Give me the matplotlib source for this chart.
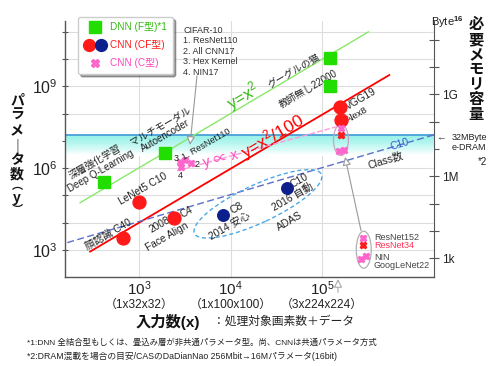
import numpy as np
import matplotlib
matplotlib.use('Agg')
import matplotlib.pyplot as plt
from matplotlib.patches import Ellipse
from matplotlib.lines import Line2D
from matplotlib.legend_handler import HandlerTuple
import matplotlib.transforms as mtrans

plt.rcParams['font.family'] = ['Liberation Sans', 'Noto Sans CJK JP', 'DejaVu Sans']
plt.rcParams['mathtext.fontset'] = 'custom'
plt.rcParams['mathtext.rm'] = 'Liberation Sans'
plt.rcParams['mathtext.it'] = 'Liberation Sans:italic'
plt.rcParams['mathtext.bf'] = 'Liberation Sans:bold'

# ---------------- data (log10 values) ----------------
dnn_names = ['Deep Q-Learning', 'Autoencoder', 'グーグルの猫', '教師無し22000']
dnn_logx = [2.61, 3.28, 5.09, 5.09]
dnn_logy = [5.50, 6.56, 10.04, 9.01]

cf_red_names = ['顔認識 C40', 'LeNet5 C10', '2008 C4 Face Align', 'VGG19', 'Alex8']
cf_red_logx = [2.82, 3.00, 3.38, 5.20, 5.21]
cf_red_logy = [3.45, 4.77, 4.18, 8.24, 7.77]

cf_navy_names = ['2014 安心 C8', '2016 自動 C10']
cf_navy_logx = [3.92, 4.62]
cf_navy_logy = [4.29, 5.27]

c_cifar_names = ['ResNet110', 'All CNN17', 'Hex Kernel', 'NIN17']
c_cifar_logx = [3.50, 3.57, 3.45, 3.46]
c_cifar_logy = [6.30, 6.19, 6.23, 6.05]

c_imnet_names = ['ResNet152', 'ResNet34', 'NIN', 'GoogLeNet22']
c_imnet_logx = [5.21, 5.21, 5.19, 5.24]
c_imnet_logy = [7.47, 7.22, 6.63, 6.67]
c_imnet_is_red = [False, True, False, False]

# enlarged copy (inset legend at bottom right)
inset_logx = [5.45, 5.45, 5.43, 5.49]
inset_logy = [3.45, 3.19, 2.68, 2.79]

# trend lines (end points)
line_x2_logx = [2.35, 5.51]
line_x2_logy = [4.73, 10.99]
line_x2_100_logx = [2.46, 5.74]
line_x2_100_logy = [2.94, 9.41]
line_prop_logx = [3.415, 5.155]
line_prop_logy = [5.90, 7.51]
line_class_logx = [2.21, 6.23]
line_class_logy = [3.27, 7.22]

edram_params = 16e6        # 32MByte e-DRAM -> 16M params (16bit)
input_224 = 3 * 224 * 224

xtick_vals = [1e3, 1e4, 1e5]
xtick_labels = ['$10^{3}$', '$10^{4}$', '$10^{5}$']
xtick_sub = ['（1x32x32）', '（1x100x100）', '（3x224x224）']
ytick_vals = [10.0 ** k for k in range(3, 12)]
ytick_labels = ['$10^{3}$', '', '', '$10^{6}$', '', '', '$10^{9}$', '', '']
btick_vals = [10.0 ** k for k in range(3, 12)]
btick_labels = ['1k', '', '', '1M', '', '', '1G', '', '']

# ---------------- style ----------------
GREEN = '#22dd00'
GREEN_L = '#88e868'
GREEN_T = '#33bb11'
RED = '#ff1a1a'
NAVY = '#0c1f8c'
PINK = '#ff66cc'
PINK_T = '#ff44bb'
DARK = '#222222'

W, H = 500, 366
fig = plt.figure(figsize=(W / 100, H / 100), dpi=100)
ax = fig.add_axes([65 / W, 1 - 277 / H, (434 - 65) / W, (277 - 21) / H])
ax.set_xscale('log')
ax.set_yscale('log')
ax.set_xlim(10 ** 2.185, 10 ** 6.23)
ax.set_ylim(10 ** 2.01, 10 ** 11.39)


def P(v):
    return [10.0 ** t for t in v]


def fpx(px, py):
    return (px / W, 1 - py / H)


def ftext(px, py, s, **kw):
    kw.setdefault('ha', 'center')
    kw.setdefault('va', 'center')
    fig.text(px / W, 1 - py / H, s, **kw)


def lab(s, x, y, dx, dy, rot=30, size=7, color=DARK, **kw):
    ax.annotate(s, (x, y), xytext=(dx * 0.72, dy * 0.72), textcoords='offset points',
                ha='center', va='center', rotation=rot, rotation_mode='anchor',
                fontsize=size, color=color, **kw)


# axes styling
for s in ['top', 'right']:
    ax.spines[s].set_visible(False)
for s in ['left', 'bottom']:
    ax.spines[s].set_color('#555555')
    ax.spines[s].set_linewidth(1.0)
ax.set_axisbelow(True)
ax.grid(True, which='major', color='#dddddd', lw=0.8)
ax.set_xticks(xtick_vals, labels=xtick_labels)
ax.set_yticks(ytick_vals, labels=ytick_labels)
ax.minorticks_off()
ax.tick_params(axis='x', length=0, pad=2, labelsize=11, colors=DARK)
ax.tick_params(axis='y', direction='inout', length=5, pad=3, labelsize=11.5, colors='#555555', labelcolor=DARK)
for xv, sub in zip(xtick_vals, xtick_sub):
    ax.text(xv, -(298.5 - 277) / 256, sub,
            transform=mtrans.blended_transform_factory(ax.transData, ax.transAxes),
            ha='center', va='top', fontsize=8.6, color=DARK)

sec = ax.secondary_yaxis('right', functions=(lambda y: 2 * y, lambda b: b / 2))
sec.set_yticks(btick_vals, labels=btick_labels)
sec.minorticks_off()
sec.tick_params(direction='inout', length=7, pad=2, labelsize=8.5, colors='#555555', labelcolor=DARK)
sec.spines['right'].set_color('#555555')

# e-DRAM band with gradient
depth = 0.75
top = np.log10(edram_params)
n = 24
c0 = np.array([0.60, 0.95, 0.91])
for i in range(n):
    t0 = top - depth * i / n
    t1 = top - depth * (i + 1) / n
    f = i / (n - 1)
    col = c0 * (1 - f ** 1.3) + np.array([1, 1, 1]) * f ** 1.3
    ax.axhspan(10 ** t1, 10 ** t0, color=col, lw=0, zorder=0.6)
ax.axhline(edram_params, color='#4a9fd8', lw=1.3, zorder=1)

# trend lines
ax.plot(P(line_x2_logx), P(line_x2_logy), color=GREEN_L, lw=1.0, zorder=2)
ax.plot(P(line_x2_100_logx), P(line_x2_100_logy), color='#ff0000', lw=1.3, zorder=2)
ax.plot(P(line_prop_logx), P(line_prop_logy), color='#ff99dd', lw=1.0, ls=(0, (4, 1.5)), zorder=2)
ax.plot(P(line_class_logx), P(line_class_logy), color='#5a6fd0', lw=1.0, ls=(0, (5, 2.5)), zorder=2)

# ellipses (pixel-sized, centered on log-data points)
def ell(cx, cy, wpx, hpx, ang, **kw):
    tr = fig.dpi_scale_trans + mtrans.ScaledTranslation(10 ** cx, 10 ** cy, ax.transData)
    e = Ellipse((0, 0), wpx / 100, hpx / 100, angle=ang, transform=tr, fill=False, **kw)
    ax.add_patch(e)

ell(4.30, 4.69, 140, 38, 25, ec='#4aa8e8', lw=1.0, ls=(0, (3, 2)), zorder=2)
ell(5.21, 7.03, 15, 31, 0, ec='#c0a8c0', lw=0.9, zorder=2)
ell(5.46, 3.01, 15, 37, 0, ec='#b0b0b0', lw=0.9, zorder=2)

# markers
ax.plot(P(dnn_logx), P(dnn_logy), 's', color=GREEN, ms=8.3, ls='none', zorder=4)
ax.plot(P(cf_red_logx), P(cf_red_logy), 'o', color=RED, ms=9.3, ls='none', zorder=4)
ax.plot(P(cf_navy_logx), P(cf_navy_logy), 'o', color=NAVY, ms=8.3, ls='none', zorder=4)
ax.plot(P(c_cifar_logx), P(c_cifar_logy), 'X', color=PINK, ms=4.5, ls='none', zorder=4)
for xx, yy, r in zip(c_imnet_logx, c_imnet_logy, c_imnet_is_red):
    ax.plot(10 ** xx, 10 ** yy, 'X', color=RED if r else PINK, ms=4.5, zorder=4)
for xx, yy, r in zip(inset_logx, inset_logy, c_imnet_is_red):
    ax.plot(10 ** xx, 10 ** yy, 'X', color=RED if r else PINK, ms=4.5, zorder=4)

# point labels
dx_ = [10 ** v for v in dnn_logx]
dy_ = [10 ** v for v in dnn_logy]
lab('深層強化学習\nDeep Q-Learning', dx_[0], dy_[0], -6, 15, size=7.0, linespacing=1.1)
lab('マルチモーダル\nAutoencoder', dx_[1], dy_[1], -2, 22, size=7.0, linespacing=1.1)
lab('グーグルの猫', dx_[2], dy_[2], -36, -13, size=7.0)
lab('教師無し22000', dx_[3], dy_[3], -22, -3, size=7.0)
rx = [10 ** v for v in cf_red_logx]
ry = [10 ** v for v in cf_red_logy]
lab('顔認識 C40', rx[0], ry[0], -15, 3, size=7.3)
lab('LeNet5 C10', rx[1], ry[1], 4, 13, size=7.3)
lab('C4', rx[2], ry[2], 13, 6, size=7.3)
lab('2008', rx[2], ry[2], -14, -7, size=7.3)
lab('Face Align', rx[2], ry[2], -7, -19, size=7.3)
lab('VGG19', rx[3], ry[3], 21, 8, size=7.3)
lab('Alex8', rx[4], ry[4], 16, 5, size=6.8)
nx = [10 ** v for v in cf_navy_logx]
ny = [10 ** v for v in cf_navy_logy]
lab('C8', nx[0], ny[0], 14, 7, size=7.5)
lab('2014 安心', nx[0], ny[0], 6, -11, size=7.3)
lab('C10', nx[1], ny[1], 12, 7, size=7.5)
lab('2016 自動', nx[1], ny[1], 6, -9, size=7.3)

# free texts
ftext(243, 96, 'y=x$^{2}$', rotation=30.5, fontsize=12, color=GREEN_T, rotation_mode='anchor')
ftext(272, 136, 'y=x$^{2}$/100', rotation=30.5, fontsize=12.5, color='#ff0000', rotation_mode='anchor')
ftext(221, 159, 'y ∝ x', rotation=14, fontsize=10, color=PINK_T, rotation_mode='anchor')
ftext(206, 144, '1. ResNet110', rotation=30, fontsize=6.5, color=DARK, rotation_mode='anchor')
ftext(176, 159, '3', fontsize=6.5, color=DARK)
ftext(197, 164, '2', fontsize=6.5, color=DARK)
ftext(180, 175, '4', fontsize=6.5, color=DARK)
ftext(386, 161, 'Class数', rotation=17, fontsize=7.5, color=DARK, rotation_mode='anchor')
ftext(400, 144, 'C10', rotation=17, fontsize=7.5, color='#3355cc', rotation_mode='anchor')
ftext(290, 221, 'ADAS', rotation=30, fontsize=7.5, color=DARK, rotation_mode='anchor')
ftext(183, 26, 'CIFAR-10\n1. ResNet110\n2. All CNN17\n3. Hex Kernel\n4. NIN17',
      ha='left', va='top', fontsize=6.5, color='#333333', linespacing=1.2)

# inset labels
ftext(374, 238, 'ResNet152', ha='left', fontsize=6.5, color='#444444')
ftext(374, 246, 'ResNet34', ha='left', fontsize=6.5, color='#ff3355')
ftext(374, 257, 'NIN', ha='left', fontsize=6.5, color='#444444')
ftext(374, 265, 'GoogLeNet22', ha='left', fontsize=6.5, color='#444444')

# arrows
ax.annotate('', xy=(10 ** 3.555, 10 ** 6.85), xytext=fpx(197, 76), textcoords='figure fraction',
            arrowprops=dict(arrowstyle='-|>,head_length=0.5,head_width=0.25', color='#999999',
                            fc='white', lw=0.8, shrinkA=0, shrinkB=0))
ax.annotate('', xy=(10 ** 5.255, 10 ** 6.41), xytext=(10 ** 5.43, 10 ** 3.71),
            arrowprops=dict(arrowstyle='-|>,head_length=0.5,head_width=0.25', color='#999999',
                            fc='white', lw=0.8, shrinkA=0, shrinkB=0))
ax.annotate('', xy=(input_224, -0.008), xycoords=('data', 'axes fraction'),
            xytext=(input_224, -0.06), textcoords=('data', 'axes fraction'),
            arrowprops=dict(arrowstyle='-|>,head_length=0.5,head_width=0.25', color='#aaaaaa',
                            fc='white', lw=0.8, shrinkA=0, shrinkB=0), annotation_clip=False)

# legend
h1 = Line2D([], [], marker='s', color=GREEN, ls='none', ms=8)
h2a = Line2D([], [], marker='o', color=RED, ls='none', ms=8.5)
h2b = Line2D([], [], marker='o', color=NAVY, ls='none', ms=8.5)
h3 = Line2D([], [], marker='X', color=PINK, ls='none', ms=5.5)
leg = fig.legend(handles=[h1, (h2a, h2b), h3], labels=['DNN (F型)*1', 'CNN (CF型)', 'CNN (C型)'],
                 handler_map={tuple: HandlerTuple(ndivide=None, pad=0.15)},
                 loc='upper left', bbox_to_anchor=fpx(78, 17), bbox_transform=fig.transFigure,
                 borderaxespad=0, fontsize=7.2, labelcolor=[GREEN_T, RED, PINK_T], frameon=True,
                 fancybox=True, shadow=True, handlelength=2.3, handletextpad=0.4, labelspacing=0.8,
                 borderpad=0.55, edgecolor='#cccccc')
leg.set_zorder(10)

# right side texts
ftext(447, 22, 'Byte$^{\\mathbf{16}}$', fontsize=8, color=DARK)
ftext(436, 137, '←', ha='left', fontsize=7, color='#444444')
ftext(452, 137, '32MByte', ha='left', fontsize=6.5, color=DARK)
ftext(452, 148, 'e-DRAM', ha='left', fontsize=6.5, color=DARK)
ftext(482, 162, '*2', fontsize=7, color=DARK)
for i, ch in enumerate('必要メモリ容量'):
    ftext(476, 25 + i * 15, ch, fontsize=11, fontweight='bold', color='#111111')

# y label (vertical)
ychars = ['パ', 'ラ', 'メ', '｜', 'タ', '数', '︵', 'y', '︶']
ypos = [100, 115, 131, 146, 160, 174, 186, 198, 210]
ysize = [10, 10, 10, 10, 10, 10, 8, 10, 8]
for ch, yy, sz in zip(ychars, ypos, ysize):
    ftext(17, yy, ch, fontsize=sz, fontweight='bold', color='#111111')

# x label
ftext(168, 322, '入力数(x)', fontsize=11, fontweight='bold', color='#111111')
ftext(213, 322, '：処理対象画素数＋データ', ha='left', fontsize=8.5, color=DARK)

# footnotes
ftext(27, 343, '*1:DNN 全結合型もしくは、畳込み層が非共通パラメータ型。尚、CNNは共通パラメータ方式',
      ha='left', fontsize=6.0, color=DARK)
ftext(27, 356, '*2:DRAM混載を場合の目安/CASのDaDianNao 256Mbit→16Mパラメータ(16bit)',
      ha='left', fontsize=6.3, color=DARK)

fig.savefig('out.png', dpi=100)
